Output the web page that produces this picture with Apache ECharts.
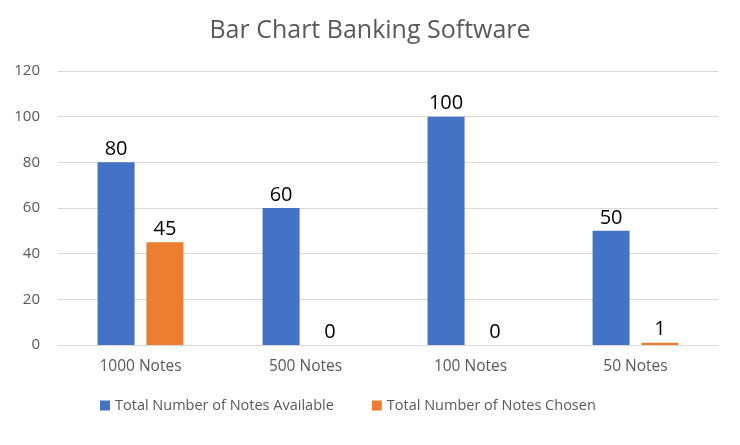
<!DOCTYPE html>
<html>
<head>
<meta charset="utf-8">
<script src="https://cdn.jsdelivr.net/npm/echarts@6/dist/echarts.min.js"></script>
<style>
html, body { margin: 0; padding: 0; background: #fff; }
#chart { width: 740px; height: 445px; }
</style>
</head>
<body>
<div id="chart"></div>
<script>
// data
var categories = ['1000 Notes', '500 Notes', '100 Notes', '50 Notes'];
var available = [80, 60, 100, 50];
var chosen = [45, 0, 0, 1];
var yTicks = [0, 20, 40, 60, 80, 100, 120];

var font = '"Open Sans", "Liberation Sans", sans-serif';
var chart = echarts.init(document.getElementById('chart'));

chart.setOption({
    backgroundColor: '#ffffff',
    animation: false,
    color: ['#4472C4', '#ED7D31'],
    title: {
        text: 'Bar Chart Banking Software',
        left: 'center',
        top: 13,
        textStyle: { fontFamily: font, fontSize: 25, fontWeight: 'normal', color: '#595959' }
    },
    legend: {
        bottom: 27,
        left: 95,
        itemWidth: 10,
        itemHeight: 10,
        itemGap: 38,
        icon: 'rect',
        textStyle: { fontFamily: font, fontSize: 14.5, color: '#595959' },
        data: ['Total Number of Notes Available', 'Total Number of Notes Chosen']
    },
    grid: { left: 58, right: 22, top: 71, bottom: 100, containLabel: false },
    xAxis: {
        type: 'category',
        data: categories,
        axisTick: { show: false },
        axisLine: { lineStyle: { color: '#d9d9d9', width: 1 } },
        axisLabel: { fontFamily: font, fontSize: 15.5, color: '#595959', margin: 14 }
    },
    yAxis: {
        type: 'value',
        min: yTicks[0],
        max: yTicks[yTicks.length - 1],
        interval: 20,
        axisLine: { show: false },
        axisTick: { show: false },
        splitLine: { lineStyle: { color: '#d9d9d9', width: 1 } },
        axisLabel: { fontFamily: font, fontSize: 15, color: '#595959', margin: 18 }
    },
    series: [
        {
            name: 'Total Number of Notes Available',
            type: 'bar',
            data: available,
            barWidth: 37,
            barGap: '32%',
            label: { show: true, position: 'top', fontFamily: font, fontSize: 20, color: '#000', distance: 3 }
        },
        {
            name: 'Total Number of Notes Chosen',
            type: 'bar',
            data: chosen,
            barWidth: 37,
            label: { show: true, position: 'top', fontFamily: font, fontSize: 20, color: '#000', distance: 3 }
        }
    ]
});
</script>
</body>
</html>
